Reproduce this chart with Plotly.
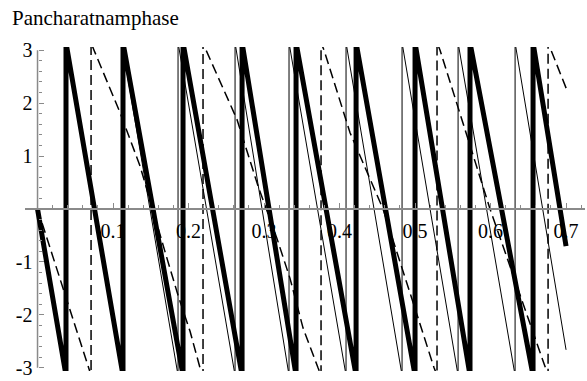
import plotly.graph_objects as go

PI = 3.14159

# ---- data (x = parameter, y = phase, wrapped to [-pi, pi]) ----
# thick solid curve: starts at (0, 0), linear descent, wraps at these x positions
thick_start = (0.0, 0.0)
thick_wraps = [0.0377, 0.1132, 0.1927, 0.2709, 0.3424, 0.4219, 0.5000, 0.5728, 0.6563]
thick_end = (0.700, -0.70)

# thin solid curve
thin_start = (0.0, 0.0)
thin_wraps = [0.0372, 0.1117, 0.1861, 0.2616, 0.3331, 0.4086, 0.4828, 0.5570, 0.6325]
thin_end = (0.700, -2.66)

# dashed curve: vertices
dash_x = [0.0, 0.0682, 0.0709, 0.0709, 0.0748, 0.1093, 0.1358, 0.1689, 0.1861, 0.2020, 0.2152,
          0.2192, 0.2192, 0.2232, 0.2642, 0.2921, 0.3172, 0.3344, 0.3517, 0.3715,
          0.3755, 0.3755, 0.3795, 0.4139, 0.4576, 0.5252,
          0.5291, 0.5291, 0.5331, 0.5993, 0.6735,
          0.6762, 0.6762, 0.6801, 0.7010]
dash_y = [0.0, -3.0, -PI, PI, 3.0, 1.82, 0.81, -0.81, -1.63, -2.31, -3.0,
          -PI, PI, 3.0, 1.69, 0.43, -0.56, -1.31, -2.25, -3.0,
          -PI, PI, 3.0, 1.44, 0.0, -3.0,
          -PI, PI, 3.0, 0.0, -3.0,
          -PI, PI, 3.0, 2.25]

x_ticks = [0.1, 0.2, 0.3, 0.4, 0.5, 0.6, 0.7]
x_labels = ["0.1", "0.2", "0.3", "0.4", "0.5", "0.6", "0.7"]
y_ticks = [-3, -2, -1, 1, 2, 3]
y_labels = ["-3", "-2", "-1", "1", "2", "3"]
title_text = "Pancharatnamphase"


def sawtooth(start, wraps, end):
    xs, ys = [start[0]], [start[1]]
    for w in wraps:
        xs += [w, w]
        ys += [-PI, PI]
    xs.append(end[0])
    ys.append(end[1])
    return xs, ys


tx, ty = sawtooth(thick_start, thick_wraps, thick_end)
nx, ny = sawtooth(thin_start, thin_wraps, thin_end)

SERIF = "Liberation Serif"
AXC = "#8a8a8a"

fig = go.Figure()
fig.add_trace(go.Scatter(x=nx, y=ny, mode="lines",
                         line=dict(color="black", width=1), showlegend=False))
fig.add_trace(go.Scatter(x=dash_x, y=dash_y, mode="lines",
                         line=dict(color="black", width=1.5, dash="10px,5px"),
                         showlegend=False))
fig.add_trace(go.Scatter(x=tx, y=ty, mode="lines",
                         line=dict(color="black", width=5), showlegend=False))

x_lo, x_hi = -0.0166, 0.7251
y_lo, y_hi = -3.06, 3.06
y_pos = (0 - x_lo) / (x_hi - x_lo)

fig.update_layout(
    width=587, height=381,
    margin=dict(l=25, r=2, t=47, b=8),
    paper_bgcolor="white", plot_bgcolor="white",
    showlegend=False,
    font=dict(family=SERIF),
    title=dict(text=title_text, x=12 / 587, xanchor="left", xref="container",
               y=1 - 10 / 381, yanchor="top", yref="container",
               font=dict(family=SERIF, size=21, color="black")),
    xaxis=dict(range=[x_lo, x_hi], anchor="free", position=0.5,
               showgrid=False, zeroline=False,
               showline=True, linecolor=AXC, linewidth=1.5,
               tickmode="array", tickvals=x_ticks, ticktext=x_labels,
               ticks="inside", ticklen=5, tickcolor=AXC, tickwidth=1,
               ticklabelstandoff=4,
               minor=dict(tickmode="linear", tick0=0, dtick=0.02, ticks="inside",
                          ticklen=3, tickcolor=AXC, tickwidth=1),
               tickfont=dict(family=SERIF, size=20, color="black")),
    yaxis=dict(range=[y_lo, y_hi], anchor="free", position=y_pos,
               showgrid=False, zeroline=False, showline=False,
               tickmode="array", tickvals=y_ticks, ticktext=y_labels,
               ticks="inside", ticklen=5, tickcolor=AXC, tickwidth=1,
               ticklabelstandoff=5,
               minor=dict(tickmode="linear", tick0=0, dtick=0.2, ticks="inside",
                          ticklen=3, tickcolor=AXC, tickwidth=1),
               tickfont=dict(family=SERIF, size=20, color="black")),
)
fig.add_shape(type="line", xref="x", yref="y", x0=0, x1=0, y0=-3, y1=3,
              line=dict(color=AXC, width=1.5), layer="below")

fig.write_html("out.html")
